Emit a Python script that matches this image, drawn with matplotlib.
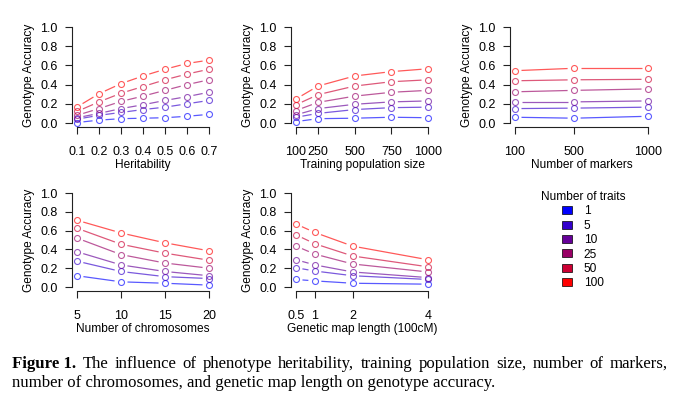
import matplotlib
matplotlib.use("Agg")
import matplotlib.pyplot as plt
from matplotlib.patches import Patch
import numpy as np

# data
traits = [1, 5, 10, 25, 50, 100]
trait_colors = ['#0000FF', '#3300CC', '#660099', '#990066', '#CC0033', '#FF0000']

heritability = [0.1, 0.2, 0.3, 0.4, 0.5, 0.6, 0.7]
acc_h2 = [
    [0.005, 0.03, 0.045, 0.05, 0.055, 0.07, 0.09],
    [0.04, 0.08, 0.11, 0.14, 0.165, 0.20, 0.235],
    [0.055, 0.10, 0.15, 0.19, 0.235, 0.275, 0.32],
    [0.08, 0.15, 0.225, 0.28, 0.34, 0.40, 0.45],
    [0.12, 0.22, 0.31, 0.38, 0.45, 0.51, 0.56],
    [0.167, 0.305, 0.41, 0.49, 0.56, 0.62, 0.655],
]

pop_size = [100, 250, 500, 750, 1000]
acc_pop = [
    [0.015, 0.045, 0.05, 0.06, 0.055],
    [0.06, 0.10, 0.14, 0.16, 0.165],
    [0.085, 0.15, 0.195, 0.22, 0.23],
    [0.13, 0.215, 0.28, 0.32, 0.34],
    [0.19, 0.295, 0.385, 0.43, 0.45],
    [0.25, 0.385, 0.49, 0.535, 0.565],
]

n_markers = [100, 500, 1000]
acc_markers = [
    [0.06, 0.05, 0.07],
    [0.15, 0.155, 0.165],
    [0.22, 0.22, 0.23],
    [0.325, 0.34, 0.355],
    [0.44, 0.45, 0.455],
    [0.545, 0.57, 0.57],
]

n_chrom = [5, 10, 15, 20]
acc_chrom = [
    [0.12, 0.055, 0.04, 0.02],
    [0.275, 0.165, 0.11, 0.09],
    [0.375, 0.235, 0.165, 0.12],
    [0.52, 0.345, 0.255, 0.20],
    [0.625, 0.455, 0.36, 0.285],
    [0.71, 0.575, 0.47, 0.385],
]

map_length = [0.5, 1, 2, 4]
acc_map = [
    [0.08, 0.065, 0.04, 0.03],
    [0.205, 0.17, 0.12, 0.08],
    [0.29, 0.235, 0.16, 0.10],
    [0.435, 0.35, 0.245, 0.16],
    [0.555, 0.46, 0.33, 0.215],
    [0.67, 0.58, 0.435, 0.29],
]

y_ticks = [0.0, 0.2, 0.4, 0.6, 0.8, 1.0]

caption_bold = 'Figure 1.'
caption_1 = 'The influence of phenotype heritability, training population size, number of markers,'
caption_2 = 'number of chromosomes, and genetic map length on genotype accuracy.'

plt.rcParams['font.family'] = ['Liberation Sans', 'DejaVu Sans']
W, H = 680, 408
fig = plt.figure(figsize=(W / 100, H / 100), dpi=100)

FS = 8.6
TFS = 9
GAP = 6.5  # pixels of gap around each point (R type="b")


def make_panel(xvals, x0px, x1px, y1px, y0px):
    # axes laid out like R: 4% padding around data range
    xmin, xmax = min(xvals), max(xvals)
    xr = xmax - xmin
    sx = (x1px - x0px) / xr
    sy = (y0px - y1px) / 1.0
    left = x0px - 0.04 * xr * sx
    right = x1px + 0.04 * xr * sx
    top = y1px - 0.04 * sy
    bottom = y0px + 0.04 * sy
    ax = fig.add_axes([left / W, 1 - bottom / H, (right - left) / W, (bottom - top) / H])
    ax.set_xlim(xmin - 0.04 * xr, xmax + 0.04 * xr)
    ax.set_ylim(-0.04, 1.04)
    return ax


def gap_lines(ax, x, y, color):
    pts = ax.transData.transform(np.column_stack([x, y]))
    inv = ax.transData.inverted()
    for p0, p1 in zip(pts[:-1], pts[1:]):
        d = p1 - p0
        L = np.hypot(*d)
        if L <= 2 * GAP:
            continue
        u = d / L
        a = inv.transform(p0 + u * GAP)
        b = inv.transform(p1 - u * GAP)
        ax.plot([a[0], b[0]], [a[1], b[1]], color=color, lw=0.9, alpha=0.65,
                solid_capstyle='butt')


def style(ax, xvals, xticklabels, xlabel):
    for s in ['top', 'right']:
        ax.spines[s].set_visible(False)
    for s in ['left', 'bottom']:
        ax.spines[s].set_linewidth(0.8)
        ax.spines[s].set_color('#222222')
    ax.spines['bottom'].set_bounds(min(xvals), max(xvals))
    ax.spines['left'].set_bounds(0, 1)
    ax.set_xticks(xvals)
    ax.set_xticklabels(xticklabels)
    ax.set_yticks(y_ticks)
    ax.set_yticklabels(['%.1f' % v for v in y_ticks])
    ax.tick_params(axis='x', length=5, width=0.8, pad=9, labelsize=TFS, color='#222222')
    ax.tick_params(axis='y', length=4.7, width=0.8, pad=5.5, labelsize=TFS, color='#222222')
    ax.set_xlabel(xlabel, fontsize=FS)
    ax.set_ylabel('Genotype Accuracy', fontsize=FS)
    bb = ax.get_position()
    wpx = bb.width * W
    hpx = bb.height * H
    ax.yaxis.set_label_coords(-43 / wpx, 0.5)
    ax.yaxis.label.set_va('center')
    ax.xaxis.set_label_coords(0.5, -38 / hpx)
    ax.xaxis.label.set_va('center')
    ax.patch.set_alpha(0)


def draw(ax, xvals, series):
    for acc, col in zip(series, trait_colors):
        gap_lines(ax, xvals, acc, col)
        ax.plot(xvals, acc, linestyle='none', marker='o', markersize=4.3,
                markerfacecolor='none', markeredgecolor=col, markeredgewidth=0.8,
                alpha=0.65)


panels = [
    (heritability, acc_h2, (77, 209, 27, 123), [str(v) for v in heritability], 'Heritability'),
    (pop_size, acc_pop, (296, 428, 27, 123), [str(v) for v in pop_size], 'Training population size'),
    (n_markers, acc_markers, (515, 648, 27, 123), [str(v) for v in n_markers], 'Number of markers'),
    (n_chrom, acc_chrom, (77, 209, 193, 287), [str(v) for v in n_chrom], 'Number of chromosomes'),
    (map_length, acc_map, (296, 428, 193, 287), [str(v) for v in map_length], 'Genetic map length (100cM)'),
]

for xvals, series, box, labels, xlabel in panels:
    ax = make_panel(xvals, *box)
    draw(ax, xvals, series)
    style(ax, xvals, labels, xlabel)

handles = [Patch(facecolor=c, edgecolor='black', linewidth=0.5) for c in trait_colors]
leg = fig.legend(handles, [str(t) for t in traits], title='Number of traits',
                 loc='upper center', bbox_to_anchor=(583 / W, 1 - 185 / H),
                 frameon=False, fontsize=FS, title_fontsize=FS,
                 handlelength=0.8, handleheight=0.65, labelspacing=0.2,
                 handletextpad=1.0, borderpad=0)
leg._legend_box.align = 'center'

# caption, first line justified to the right edge like the source
serif = ['Liberation Serif', 'DejaVu Serif']
CFS = 12.1
renderer = fig.canvas.get_renderer()
x_left, x_right = 12, 668
y1 = 1 - 368 / H
words = [(caption_bold, 'bold')] + [(w, 'normal') for w in caption_1.split(' ')]
texts = []
for w, wt in words:
    t = fig.text(0, y1, w, fontsize=CFS, fontweight=wt, family=serif, va='baseline')
    texts.append(t)
widths = [t.get_window_extent(renderer).width for t in texts]
space = (x_right - x_left - sum(widths)) / (len(texts) - 1)
xpos = x_left
for t, w in zip(texts, widths):
    t.set_x(xpos / W)
    xpos += w + space
fig.text(x_left / W, 1 - 387 / H, caption_2, fontsize=CFS, family=serif, va='baseline')

fig.savefig('out.png', dpi=100)
